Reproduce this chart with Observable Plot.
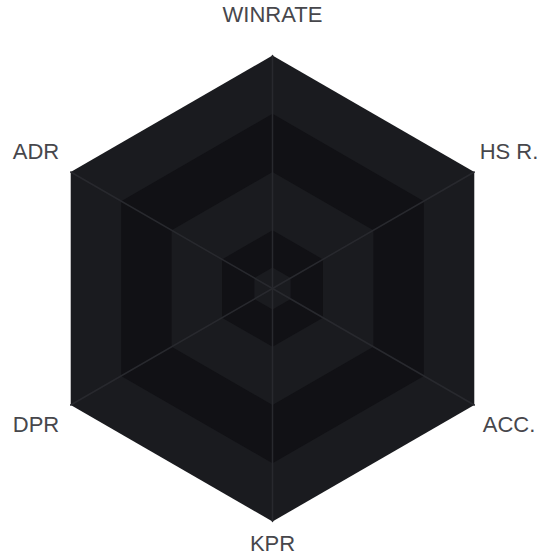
<!DOCTYPE html>
<html>
<head>
<meta charset="utf-8">
<script src="https://cdn.jsdelivr.net/npm/d3@7"></script>
<script src="https://cdn.jsdelivr.net/npm/@observablehq/plot@0.6"></script>
<style>
  html, body { margin: 0; padding: 0; background: #ffffff; }
  #chart { width: 560px; height: 560px; }
</style>
</head>
<body>
<div id="chart"></div>
<script>
// Axes in clockwise order starting from the top
const axes = ["WINRATE", "HS R.", "ACC.", "KPR", "DPR", "ADR"];
// Grid levels (fraction of max), drawn from the outside in
const levels = [1, 0.75, 0.5, 0.25];
// Series values (fraction of max) for each axis
const values = [0.09, 0.09, 0.09, 0.09, 0.09, 0.09];

const lightFill = "#1a1b1f";
const darkFill = "#111115";
const spokeColor = "#28292e";
const labelColor = "#47474c";

const n = axes.length;
const angle = i => Math.PI / 2 - (2 * Math.PI * i) / n;
const pt = (i, r) => ({x: r * Math.cos(angle(i)), y: r * Math.sin(angle(i))});

// polygon rows for grid levels
const gridRows = [];
levels.forEach((lv, k) => {
  axes.forEach((a, i) => gridRows.push({level: k, ...pt(i, lv)}));
});
const dataRows = values.map((v, i) => pt(i, v));
const spokeRows = [];
axes.forEach((a, i) => {
  spokeRows.push({axis: a, ...pt(i, 0)});
  spokeRows.push({axis: a, ...pt(i, 1)});
});
const labelRows = axes.map((a, i) => {
  const bottom = Math.abs(angle(i) + Math.PI / 2) < 1e-6;
  return {axis: a, ...pt(i, bottom ? 1.095 : 1.172)};
});

// scale: center at (272, 288), radius 233 px
const W = 560, H = 560, cx = 272, cy = 288, R = 233;
const chart = Plot.plot({
  width: W,
  height: H,
  margin: 0,
  x: {domain: [-cx / R, (W - cx) / R], axis: null},
  y: {domain: [-(H - cy) / R, cy / R], axis: null},
  style: {background: "transparent"},
  marks: [
    ...levels.map((lv, k) =>
      Plot.line(gridRows.filter(d => d.level === k), {
        x: "x", y: "y",
        fill: k % 2 === 0 ? lightFill : darkFill,
        stroke: "none",
        curve: "linear-closed"
      })
    ),
    Plot.line(dataRows, {x: "x", y: "y", fill: lightFill, stroke: "none", curve: "linear-closed"}),
    Plot.line(spokeRows, {x: "x", y: "y", z: "axis", stroke: spokeColor, strokeWidth: 1.5}),
    Plot.text(labelRows, {
      x: "x", y: "y", text: "axis",
      fontSize: 22,
      fontFamily: "'Helvetica Neue', 'Liberation Sans', Arial, sans-serif",
      fill: labelColor,
      textAnchor: "middle",
      lineAnchor: "middle"
    })
  ]
});
document.getElementById("chart").appendChild(chart);
</script>
</body>
</html>
